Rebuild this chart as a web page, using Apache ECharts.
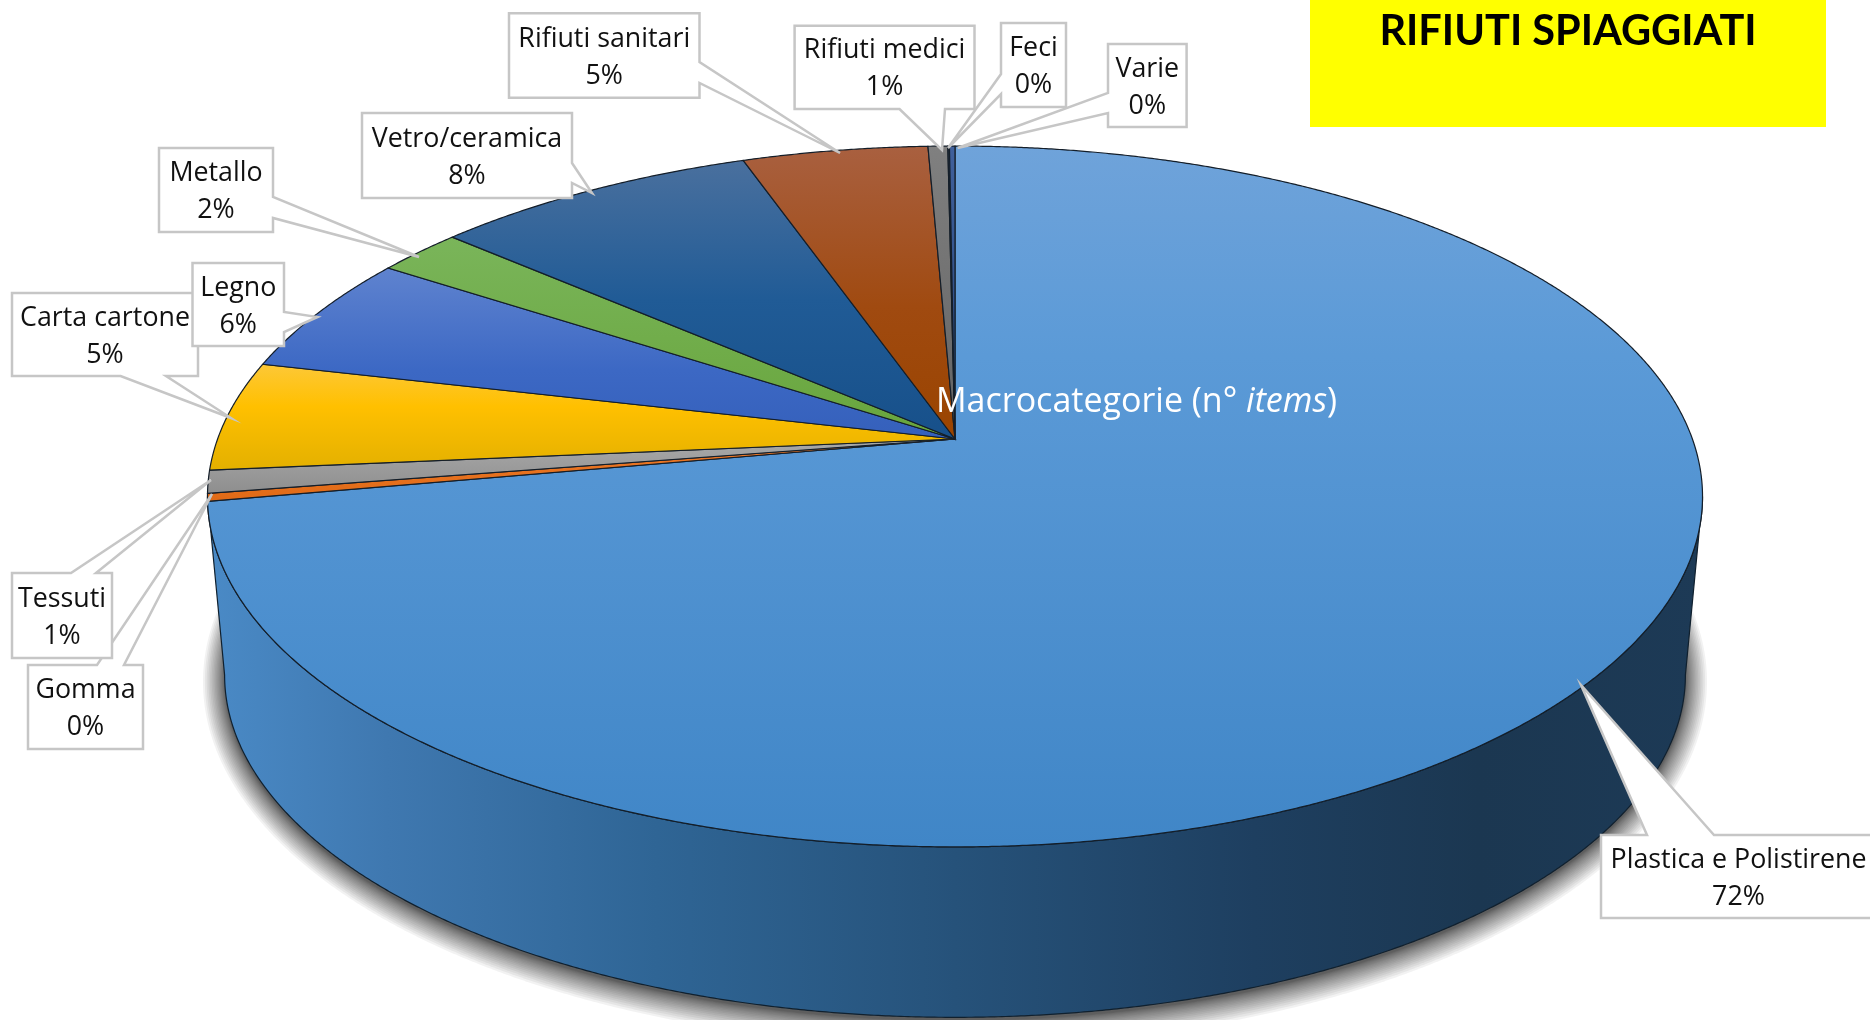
<!DOCTYPE html>
<html>
<head>
<meta charset="utf-8">
<title>Rifiuti spiaggiati</title>
<script src="https://cdn.jsdelivr.net/npm/echarts@6/dist/echarts.min.js"></script>
<style>html,body{margin:0;padding:0;background:#fff}#chart{width:1870px;height:1020px}</style>
</head>
<body>
<div id="chart"></div>
<script>
const categories = ['Plastica e Polistirene','Gomma','Tessuti','Carta cartone','Legno','Metallo','Vetro/ceramica','Rifiuti sanitari','Rifiuti medici','Feci','Varie'];
const values = [72.16,0.36,1.05,5.08,5.55,2.18,8.24,4.70,0.5,0.04,0.14];
const chartTitle = 'RIFIUTI SPIAGGIATI';

const sliceStops = [
  [[0,'#6fa3da'],[0.3,'#5b9ad7'],[1,'#4086c7']],
  [[0,'#ee7a2a'],[1,'#e06a16']],
  [[0,'#aaaaaa'],[1,'#8e8e8e']],
  [[0,'#fdc838'],[0.4,'#ffc000'],[1,'#e3b000']],
  [[0,'#5f83cf'],[0.6,'#3c68c4'],[1,'#3560bb']],
  [[0,'#7ab55a'],[1,'#68a53c']],
  [[0,'#4a709e'],[0.5,'#205b96'],[1,'#17508a']],
  [[0,'#a96040'],[0.55,'#a04a10'],[1,'#9a4400']],
  [[0,'#808080'],[1,'#636363']],
  [[0,'#2a3542'],[1,'#1c2835']],
  [[0,'#40609c'],[1,'#264478']]
];
// [box left, top, right, bottom, side of the callout wedge, base a, tip x, tip y, base b]
const calloutLayout = [
  [1601,835,1876,918,'top',1647,1581,685,1714],
  [28,665,143,749,'top',97,212,494,124],
  [12,573,112,658,'top',71,211,480,96],
  [12,293,198,376,'bottom',120.6,231,418,166],
  [192.5,263,284,346,'right',312,317.5,317,332],
  [159,148,273,232,'right',197,419,257,218],
  [362,113,572,198,'right',163,592,193,183],
  [509,13.3,699.5,97.7,'right',62,840,153,83],
  [794.6,25.7,974.5,109,'bottom',899.5,942,150,945],
  [1001,23,1066,107,'left',74,948,148,94],
  [1108,44,1186.6,127,'left',93,957.6,148,113]
];

const view = {cx:955, top:{cy:439,a:737.4,b:341}, bottom:{cy:619,a:720.5,b:333}, k:0.164};
const LABEL_FONT = '"Open Sans"';
const deg = Math.PI/180;

function rim(face, t){
  const w = 1 + view.k*Math.cos(t);
  return [view.cx + face.a*Math.sin(t)/w, face.cy - face.b*Math.cos(t)/w];
}
function arc(face, t0, t1){
  const n = Math.max(2, Math.ceil(Math.abs(t1-t0)/(0.25*deg)));
  const pts = [];
  for(let i=0;i<=n;i++) pts.push(rim(face, t0+(t1-t0)*i/n));
  return pts;
}
const total = values.reduce((s,v)=>s+v,0);
const startShare = [];
values.reduce((s,v,i)=>{startShare[i]=s; return s+v;},0);

function renderBody(params, api){
  const tR = Math.acos(-view.k), tL = 2*Math.PI - tR;
  const wallPts = arc(view.top,tR,tL).concat(arc(view.bottom,tL,tR));
  const children = [];
  const layers = 18;
  for(let i=layers;i>=1;i--){
    const d = 22*Math.pow(i/layers,1.6);
    const face = {cy:view.bottom.cy+3, a:view.bottom.a+d*0.97, b:view.bottom.b+d};
    children.push({type:'polygon',shape:{points:arc(face,0,2*Math.PI)},style:{fill:'rgba(0,0,0,0.05)'}});
  }
  children.push({type:'polygon',shape:{points:wallPts},
     style:{fill:{type:'linear',x:208,y:0,x2:1703,y2:0,global:true,colorStops:[
       {offset:0,color:'#4a8ac6'},{offset:0.12,color:'#3f78b0'},{offset:0.3,color:'#2f6595'},
       {offset:0.5,color:'#26527a'},{offset:0.7,color:'#1e3f60'},{offset:0.85,color:'#1b3751'},{offset:1,color:'#1d3a56'}]},
       stroke:'#10202e',lineWidth:1.2}});
  return {type:'group',silent:true,children};
}
function renderSlice(params, api){
  const i = params.dataIndex;
  const v = api.value(0);
  const t0 = startShare[i]/total*2*Math.PI, t1 = t0 + v/total*2*Math.PI;
  return {type:'polygon',silent:true,
    shape:{points:[[view.cx,view.top.cy]].concat(arc(view.top,t0,t1))},
    style:{fill:{type:'linear',x:0,y:0,x2:0,y2:1,colorStops:sliceStops[i].map(s=>({offset:s[0],color:s[1]}))},
      stroke:'#141e29',lineWidth:1.2}};
}
function calloutPoints(l){
  const [x0,y0,x1,y1,side,a,tx,ty,b] = l;
  const p = [[x0,y0]];
  if(side==='top') p.push([a,y0],[tx,ty],[b,y0]);
  p.push([x1,y0]);
  if(side==='right') p.push([x1,a],[tx,ty],[x1,b]);
  p.push([x1,y1]);
  if(side==='bottom') p.push([b,y1],[tx,ty],[a,y1]);
  p.push([x0,y1]);
  if(side==='left') p.push([x0,b],[tx,ty],[x0,a]);
  return p;
}
function renderCallout(params, api){
  const i = params.dataIndex;
  const l = calloutLayout[i];
  const pct = Math.round(api.value(0)/total*100);
  return {type:'group',silent:true,children:[
    {type:'polygon',shape:{points:calloutPoints(l)},style:{fill:'#fff',stroke:'#c6c6c6',lineWidth:2.5,lineJoin:'miter'}},
    {type:'text',x:(l[0]+l[2])/2,y:(l[1]+l[3])/2+2,
     style:{text:categories[i]+'\n'+pct+'%',fill:'#111',align:'center',verticalAlign:'middle',
       fontFamily:LABEL_FONT,fontSize:26.8,lineHeight:37}}
  ]};
}
const seriesData = categories.map((c,i)=>({name:c,value:values[i]}));
const chart = echarts.init(document.getElementById('chart'),null,{renderer:'canvas'});
chart.setOption({
  animation:false,
  backgroundColor:'#ffffff',
  tooltip:{show:false},
  graphic:[
    {type:'rect',z:20,silent:true,shape:{x:1310,y:0,width:516,height:127},style:{fill:'#ffff00'}},
    {type:'text',z:21,silent:true,x:1568,y:32,style:{text:chartTitle,fill:'#000',align:'center',verticalAlign:'middle',
      fontFamily:'Lato',fontWeight:'bold',fontSize:41.5}},
    {type:'text',z:22,silent:true,x:936,y:402,style:{
      text:'{a|Macrocategorie (n° }{b|items}{a|)}',verticalAlign:'middle',
      rich:{a:{fill:'#fff',color:'#fff',fontFamily:LABEL_FONT,fontSize:34},
            b:{fill:'#fff',color:'#fff',fontFamily:LABEL_FONT,fontSize:34,fontStyle:'italic'}}}}
  ],
  series:[
    {type:'custom',name:'Corpo',coordinateSystem:'none',z:1,data:[total],renderItem:renderBody},
    {type:'custom',name:'Macrocategorie',coordinateSystem:'none',z:2,data:seriesData,renderItem:renderSlice},
    {type:'custom',name:'Etichette',coordinateSystem:'none',z:3,data:seriesData,renderItem:renderCallout}
  ]
});
</script>
</body>
</html>
